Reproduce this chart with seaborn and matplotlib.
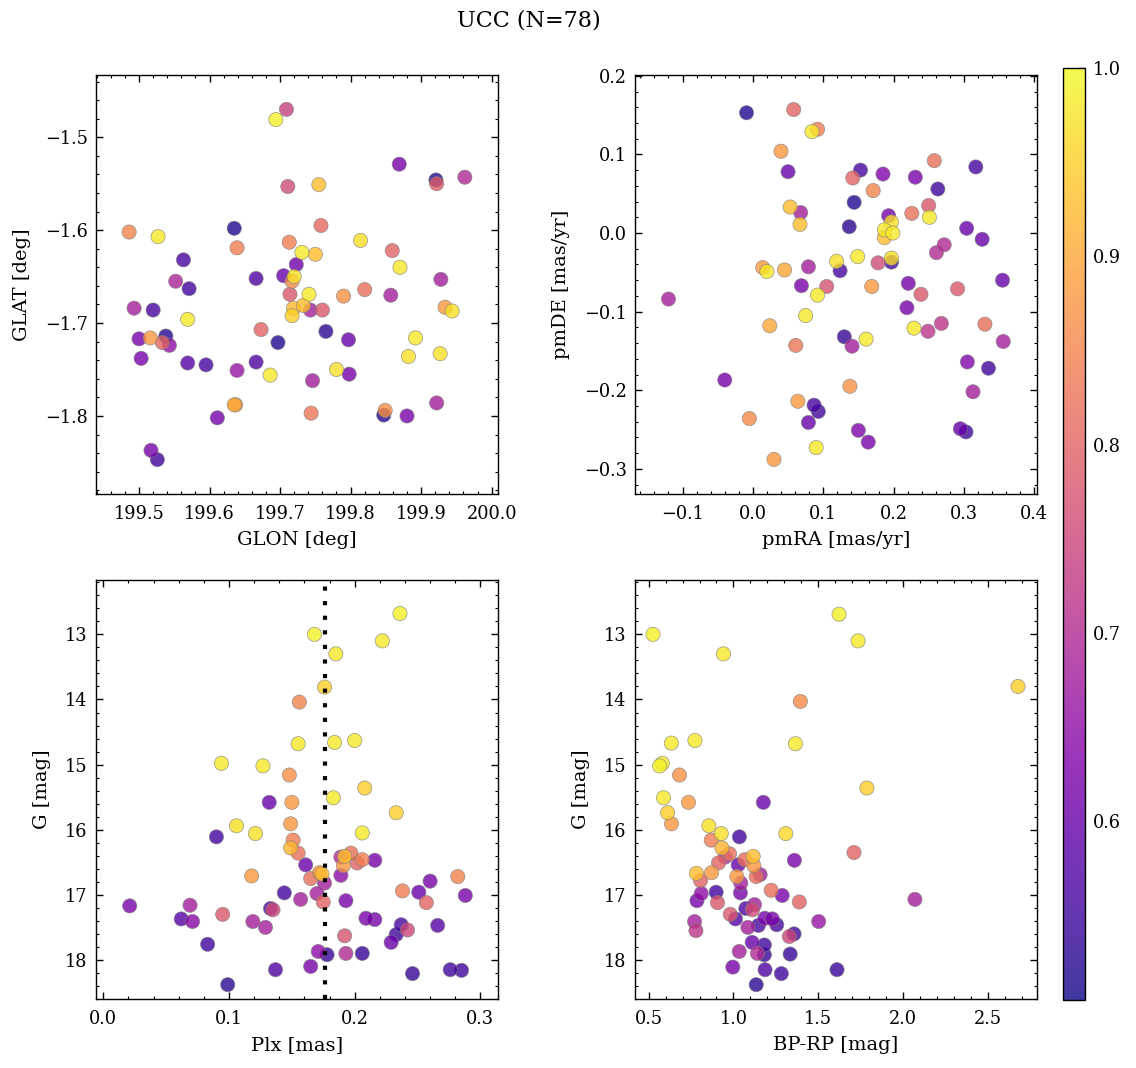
import numpy as np
import pandas as pd
import seaborn as sns
import matplotlib.pyplot as plt
from matplotlib.colors import Normalize, ListedColormap
from matplotlib.ticker import AutoMinorLocator, MultipleLocator
from matplotlib.cm import ScalarMappable

# --- positions (GLON / GLAT) ---
glon = [199.709, 199.694, 199.869, 199.921, 199.922, 199.962, 199.711, 199.755, 199.486, 199.527,
        199.635, 199.758, 199.639, 199.713, 199.814, 199.859, 199.731, 199.750, 199.563, 199.870,
        199.723, 199.552, 199.666, 199.705, 199.720, 199.717, 199.928, 199.571, 199.714, 199.741,
        199.790, 199.820, 199.857, 199.493, 199.520, 199.569, 199.719, 199.717, 199.733, 199.743,
        199.760, 199.934, 199.944, 199.500, 199.516, 199.538, 199.533, 199.543, 199.503, 199.569,
        199.595, 199.639, 199.666, 199.673, 199.697, 199.686, 199.765, 199.797, 199.746, 199.780,
        199.798, 199.892, 199.882, 199.927, 199.637, 199.635, 199.611, 199.744, 199.847, 199.849,
        199.880, 199.922, 199.517, 199.526]
glat = [-1.470, -1.481, -1.529, -1.546, -1.550, -1.543, -1.553, -1.551, -1.602, -1.607,
        -1.598, -1.595, -1.619, -1.613, -1.611, -1.622, -1.624, -1.626, -1.632, -1.640,
        -1.637, -1.655, -1.652, -1.649, -1.650, -1.655, -1.653, -1.663, -1.669, -1.669,
        -1.671, -1.664, -1.670, -1.684, -1.686, -1.696, -1.684, -1.692, -1.681, -1.686,
        -1.686, -1.683, -1.687, -1.717, -1.716, -1.714, -1.721, -1.724, -1.738, -1.743,
        -1.745, -1.751, -1.742, -1.707, -1.721, -1.756, -1.709, -1.718, -1.762, -1.750,
        -1.755, -1.716, -1.736, -1.733, -1.788, -1.788, -1.802, -1.797, -1.799, -1.794,
        -1.800, -1.786, -1.837, -1.847]
prob_pos = [0.74, 0.99, 0.62, 0.52, 0.79, 0.70, 0.76, 0.93, 0.85, 0.98,
            0.52, 0.81, 0.84, 0.84, 0.97, 0.80, 0.98, 0.93, 0.56, 0.98,
            0.61, 0.69, 0.57, 0.60, 0.97, 0.86, 0.68, 0.55, 0.78, 0.98,
            0.87, 0.82, 0.68, 0.68, 0.56, 0.98, 0.93, 0.95, 0.93, 0.68,
            0.78, 0.88, 0.97, 0.62, 0.88, 0.52, 0.80, 0.65, 0.62, 0.58,
            0.56, 0.66, 0.57, 0.80, 0.52, 0.98, 0.53, 0.60, 0.68, 0.97,
            0.62, 0.98, 0.97, 0.97, 0.88, 0.90, 0.62, 0.83, 0.52, 0.87,
            0.62, 0.68, 0.62, 0.55]

# --- proper motions ---
pmra = [-0.009, 0.058, 0.092, 0.084, 0.040, 0.050, 0.153, 0.142, 0.185, 0.231,
        0.258, 0.317, 0.171, 0.263, 0.144, 0.053, 0.068, 0.067, 0.193, 0.197,
        0.187, 0.199, 0.187, 0.226, 0.250, 0.251, 0.137, 0.304, 0.326, 0.272,
        0.261, 0.119, 0.149, 0.178, 0.197, 0.197, 0.124, 0.079, 0.014, 0.020,
        0.045, 0.355, 0.069, 0.105, 0.092, 0.169, 0.221, 0.239, 0.291, -0.120,
        0.219, 0.075, 0.024, 0.229, 0.249, 0.268, 0.330, 0.130, 0.141, 0.161,
        0.061, 0.356, -0.040, 0.305, 0.335, 0.138, 0.313, 0.064, 0.087, 0.093,
        -0.005, 0.079, 0.150, 0.164, 0.295, 0.303, 0.090, 0.030]
pmde = [0.153, 0.157, 0.132, 0.129, 0.104, 0.078, 0.080, 0.070, 0.075, 0.071,
        0.092, 0.084, 0.054, 0.056, 0.039, 0.033, 0.026, 0.011, 0.022, 0.014,
        0.004, 0.000, -0.006, 0.025, 0.035, 0.020, 0.008, 0.006, -0.008, -0.015,
        -0.025, -0.036, -0.030, -0.038, -0.032, -0.037, -0.048, -0.043, -0.044, -0.049,
        -0.047, -0.060, -0.067, -0.068, -0.079, -0.068, -0.064, -0.078, -0.071, -0.084,
        -0.095, -0.105, -0.118, -0.121, -0.125, -0.115, -0.116, -0.132, -0.144, -0.135,
        -0.143, -0.138, -0.187, -0.164, -0.172, -0.195, -0.202, -0.214, -0.219, -0.227,
        -0.236, -0.241, -0.251, -0.266, -0.249, -0.253, -0.273, -0.288]
prob_pm = [0.52, 0.80, 0.84, 0.98, 0.88, 0.60, 0.56, 0.80, 0.63, 0.62,
           0.82, 0.56, 0.85, 0.55, 0.52, 0.93, 0.68, 0.93, 0.62, 0.97,
           0.98, 0.98, 0.93, 0.82, 0.78, 0.98, 0.53, 0.60, 0.60, 0.70,
           0.70, 0.97, 0.98, 0.76, 0.97, 0.55, 0.56, 0.68, 0.88, 0.98,
           0.90, 0.60, 0.62, 0.77, 0.98, 0.88, 0.62, 0.78, 0.78, 0.68,
           0.62, 0.98, 0.90, 0.98, 0.72, 0.72, 0.82, 0.54, 0.68, 0.98,
           0.83, 0.68, 0.62, 0.63, 0.55, 0.87, 0.68, 0.88, 0.56, 0.55,
           0.86, 0.60, 0.63, 0.62, 0.60, 0.55, 0.98, 0.88]

# --- parallax vs G ---
plx = [0.236, 0.168, 0.222, 0.185, 0.176, 0.156, 0.155, 0.184, 0.200, 0.094,
       0.127, 0.148, 0.208, 0.183, 0.132, 0.150, 0.233, 0.149, 0.106, 0.121,
       0.206, 0.090, 0.151, 0.149, 0.155, 0.189, 0.197, 0.192, 0.191, 0.202,
       0.206, 0.216, 0.161, 0.118, 0.165, 0.172, 0.174, 0.176, 0.189, 0.282,
       0.260, 0.238, 0.251, 0.288, 0.170, 0.144, 0.157, 0.175, 0.193, 0.257,
       0.021, 0.069, 0.133, 0.135, 0.095, 0.062, 0.071, 0.119, 0.129, 0.209,
       0.216, 0.237, 0.242, 0.266, 0.233, 0.229, 0.192, 0.083, 0.171, 0.178,
       0.193, 0.206, 0.137, 0.165, 0.246, 0.276, 0.285, 0.099]
g_plx = [12.68, 13.00, 13.10, 13.30, 13.81, 14.04, 14.68, 14.66, 14.63, 14.98,
         15.02, 15.16, 15.36, 15.51, 15.58, 15.58, 15.74, 15.91, 15.94, 16.06,
         16.05, 16.11, 16.16, 16.28, 16.36, 16.42, 16.36, 16.41, 16.55, 16.51,
         16.46, 16.47, 16.54, 16.71, 16.75, 16.66, 16.68, 16.82, 16.70, 16.72,
         16.79, 16.94, 16.96, 17.01, 16.98, 16.97, 17.07, 17.11, 17.09, 17.12,
         17.17, 17.16, 17.21, 17.23, 17.30, 17.37, 17.41, 17.41, 17.50, 17.36,
         17.38, 17.46, 17.54, 17.47, 17.61, 17.73, 17.63, 17.76, 17.87, 17.92,
         17.90, 17.90, 18.15, 18.10, 18.21, 18.15, 18.16, 18.38]
prob_plx = [0.99, 0.99, 0.98, 0.98, 0.95, 0.85, 0.98, 0.98, 0.98, 0.98,
            0.98, 0.87, 0.95, 0.98, 0.60, 0.88, 0.95, 0.88, 0.97, 0.97,
            0.98, 0.55, 0.84, 0.92, 0.82, 0.70, 0.82, 0.93, 0.88, 0.80,
            0.84, 0.62, 0.60, 0.88, 0.82, 0.88, 0.93, 0.68, 0.65, 0.85,
            0.62, 0.84, 0.60, 0.62, 0.68, 0.55, 0.68, 0.80, 0.62, 0.80,
            0.62, 0.68, 0.57, 0.76, 0.78, 0.58, 0.64, 0.68, 0.68, 0.62,
            0.62, 0.56, 0.75, 0.58, 0.55, 0.60, 0.77, 0.55, 0.65, 0.54,
            0.70, 0.54, 0.57, 0.62, 0.54, 0.55, 0.55, 0.53]
plx_line = 0.176

# --- colour-magnitude ---
bprp = [1.622, 0.526, 1.734, 0.941, 2.676, 1.394, 0.634, 0.773, 1.365, 0.581,
        0.565, 0.682, 1.786, 0.588, 0.735, 1.176, 0.612, 0.635, 0.855, 0.928,
        1.308, 1.035, 0.869, 0.932, 0.977, 0.951, 1.067, 1.116, 1.120, 0.912,
        1.359, 1.710, 1.028, 0.782, 0.871, 1.020, 1.134, 1.157, 0.806, 1.043,
        0.810, 0.898, 1.041, 1.222, 1.287, 0.785, 0.906, 1.388, 2.069, 1.073,
        1.124, 1.112, 0.981, 1.012, 1.185, 1.229, 1.502, 0.771, 0.779, 1.085,
        1.147, 1.255, 1.357, 1.329, 1.110, 1.182, 1.034, 1.141, 1.182, 1.334,
        0.996, 1.186, 1.282, 1.610, 1.134]
g_cmd = [12.69, 13.00, 13.10, 13.30, 13.80, 14.03, 14.67, 14.63, 14.68, 14.98,
         15.02, 15.16, 15.36, 15.51, 15.58, 15.58, 15.74, 15.91, 15.94, 16.06,
         16.06, 16.11, 16.16, 16.28, 16.37, 16.42, 16.46, 16.41, 16.55, 16.51,
         16.47, 16.35, 16.54, 16.67, 16.66, 16.72, 16.72, 16.69, 16.78, 16.82,
         16.98, 16.96, 16.97, 16.93, 17.01, 17.09, 17.12, 17.11, 17.07, 17.21,
         17.15, 17.23, 17.30, 17.37, 17.36, 17.37, 17.41, 17.41, 17.55, 17.50,
         17.47, 17.46, 17.60, 17.64, 17.73, 17.77, 17.87, 17.90, 17.92, 17.91,
         18.11, 18.15, 18.21, 18.15, 18.38]
prob_cmd = [0.99, 0.99, 0.98, 0.98, 0.95, 0.86, 0.98, 0.98, 0.98, 0.98,
            0.99, 0.87, 0.95, 0.98, 0.88, 0.60, 0.95, 0.88, 0.97, 0.97,
            0.96, 0.55, 0.84, 0.92, 0.82, 0.70, 0.82, 0.93, 0.88, 0.80,
            0.62, 0.80, 0.60, 0.93, 0.88, 0.88, 0.82, 0.68, 0.80, 0.68,
            0.65, 0.55, 0.62, 0.82, 0.62, 0.62, 0.78, 0.80, 0.68, 0.57,
            0.68, 0.76, 0.78, 0.58, 0.62, 0.62, 0.66, 0.68, 0.72, 0.68,
            0.56, 0.56, 0.55, 0.75, 0.60, 0.55, 0.68, 0.70, 0.54, 0.54,
            0.62, 0.57, 0.55, 0.54, 0.53]

VMIN, VMAX = 0.505, 1.0
ALPHA = 0.8

sns.set_style("ticks")
plt.rcParams['font.family'] = ['DejaVu Serif']
plt.rcParams['mathtext.fontset'] = 'dejavuserif'
plt.rcParams.update({
    'xtick.direction': 'in', 'ytick.direction': 'in',
    'xtick.top': True, 'ytick.right': True,
    'xtick.major.size': 5, 'ytick.major.size': 5,
    'xtick.minor.size': 2.5, 'ytick.minor.size': 2.5,
    'xtick.major.width': 1.0, 'ytick.major.width': 1.0,
    'xtick.minor.width': 0.8, 'ytick.minor.width': 0.8,
    'xtick.minor.visible': True, 'ytick.minor.visible': True,
    'xtick.major.pad': 8, 'ytick.major.pad': 6,
    'xtick.labelsize': 12.8, 'ytick.labelsize': 12.8,
    'axes.labelsize': 14, 'axes.linewidth': 1.0,
    'axes.edgecolor': 'black', 'text.color': 'black', 'axes.labelcolor': 'black',
    'xtick.color': 'black', 'ytick.color': 'black',
})

fig = plt.figure(figsize=(11.36, 10.68), dpi=100)
W, H = 1136, 1068


def box(x0, x1, y0, y1):
    return [x0 / W, 1 - y1 / H, (x1 - x0) / W, (y1 - y0) / H]


ax1 = fig.add_axes(box(96, 498, 75, 494))
ax2 = fig.add_axes(box(635, 1037, 75, 494))
ax3 = fig.add_axes(box(96, 498, 580, 999))
ax4 = fig.add_axes(box(635, 1037, 580, 999))
cax = fig.add_axes(box(1063, 1085, 68, 1000))

norm = Normalize(vmin=VMIN, vmax=VMAX)
panels = [
    (ax1, glon, glat, prob_pos, 'GLON [deg]', 'GLAT [deg]'),
    (ax2, pmra, pmde, prob_pm, 'pmRA [mas/yr]', 'pmDE [mas/yr]'),
    (ax3, plx, g_plx, prob_plx, 'Plx [mas]', 'G [mag]'),
    (ax4, bprp, g_cmd, prob_cmd, 'BP-RP [mag]', 'G [mag]'),
]

for ax, xs, ys, pr, xl, yl in panels:
    df = pd.DataFrame({'x': xs, 'y': ys, 'prob': pr}).sort_values('prob')
    sns.scatterplot(data=df, x='x', y='y', hue='prob', palette='plasma', hue_norm=norm,
                    s=105, alpha=ALPHA, edgecolor='gray', linewidth=0.5, legend=False, ax=ax)
    ax.set_xlabel(xl, labelpad=6)
    ax.set_ylabel(yl, labelpad=10)
    ax.xaxis.set_minor_locator(AutoMinorLocator(5))
    ax.yaxis.set_minor_locator(AutoMinorLocator(5))

ax1.set_xlim(199.439, 200.009)
ax1.set_ylim(-1.884, -1.433)
ax2.set_xlim(-0.1676, 0.404)
ax2.set_ylim(-0.332, 0.201)
ax3.set_xlim(-0.0058, 0.314)
ax3.xaxis.set_major_locator(MultipleLocator(0.1))
ax3.set_ylim(18.6, 12.165)
ax4.set_xlim(0.42, 2.788)
ax4.set_ylim(18.6, 12.165)

ax3.axvline(plx_line, color='black', linestyle=(0, (1, 2.5)), linewidth=3, zorder=3)

# colorbar with the same transparency as the points
base = plt.get_cmap('plasma')(np.linspace(0, 1, 256))
base[:, :3] = ALPHA * base[:, :3] + (1 - ALPHA)
cmap_cb = ListedColormap(base)
cb = fig.colorbar(ScalarMappable(norm=norm, cmap=cmap_cb), cax=cax)
cb.set_ticks([0.6, 0.7, 0.8, 0.9, 1.0])
cb.ax.yaxis.set_minor_locator(AutoMinorLocator(5))
cb.ax.tick_params(which='both', direction='in', right=True, left=False, labelsize=12.8)
cb.ax.tick_params(which='major', pad=6)
cb.outline.set_linewidth(1.0)

fig.suptitle('UCC (N=78)', x=529 / W, y=1 - 20 / H, va='center', fontsize=16)

plt.savefig('out.png', dpi=100)
